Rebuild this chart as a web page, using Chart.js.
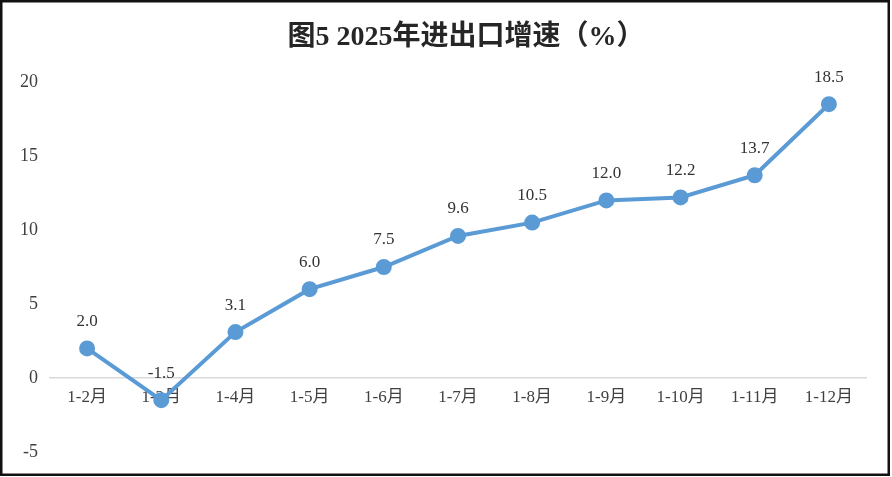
<!DOCTYPE html>
<html>
<head>
<meta charset="utf-8">
<style>
html,body{margin:0;padding:0;background:#fff;}
#wrap{width:892px;height:477px;position:relative;}
</style>
<script src="https://cdn.jsdelivr.net/npm/chart.js@4.4.1/dist/chart.umd.min.js"></script>
</head>
<body>
<div id="wrap"><canvas id="c" width="892" height="477"></canvas></div>
<script>
const categories = ["1-2月","1-3月","1-4月","1-5月","1-6月","1-7月","1-8月","1-9月","1-10月","1-11月","1-12月"];
const growth = [2.0, -1.5, 3.1, 6.0, 7.5, 9.6, 10.5, 12.0, 12.2, 13.7, 18.5];
const yTicks = [-5, 0, 5, 10, 15, 20];
const titleText = "图5 2025年进出口增速（%）";

const serif = '"Liberation Serif", "Noto Sans CJK SC", serif';

const decor = {
  id: 'decor',
  afterDraw(chart) {
    const ctx = chart.ctx;
    ctx.save();
    // title
    ctx.fillStyle = '#262626';
    ctx.font = 'bold 28px ' + serif;
    ctx.textAlign = 'center';
    ctx.textBaseline = 'middle';
    ctx.fillText(titleText, 466, 38);
    // data labels
    const meta = chart.getDatasetMeta(0);
    ctx.font = '17px ' + serif;
    ctx.fillStyle = '#333333';
    meta.data.forEach((pt, i) => {
      ctx.fillText(growth[i].toFixed(1), pt.x, pt.y - 27);
    });
    // frame
    ctx.strokeStyle = '#111';
    ctx.lineWidth = 2.5;
    ctx.strokeRect(1.25, 1.25, 887.5, 473.5);
    ctx.restore();
  }
};

new Chart(document.getElementById('c'), {
  type: 'line',
  data: {
    labels: categories,
    datasets: [{
      data: growth,
      borderColor: '#5B9BD5',
      backgroundColor: '#5B9BD5',
      borderWidth: 4,
      pointRadius: 6,
      pointHoverRadius: 6,
      pointBackgroundColor: '#5B9BD5',
      pointBorderColor: '#5B9BD5',
      tension: 0
    }]
  },
  options: {
    responsive: false,
    animation: false,
    devicePixelRatio: 1,
    layout: { padding: { top: 82, bottom: 25, right: 26, left: 0 } },
    plugins: { legend: { display: false }, title: { display: false }, tooltip: { enabled: false } },
    scales: {
      x: {
        position: { y: 0 },
        offset: true,
        grid: { display: false, drawTicks: false },
        border: { display: true, color: '#D9D9D9', width: 1.5 },
        ticks: { color: '#404040', font: { family: serif, size: 17 }, padding: 9, maxRotation: 0, autoSkip: false }
      },
      y: {
        min: -5, max: 20,
        afterFit(scale) { scale.width = 50; },
        afterBuildTicks(scale) { scale.ticks = yTicks.map(v => ({ value: v })); },
        grid: { display: false, drawTicks: false },
        border: { display: false },
        ticks: { color: '#404040', font: { family: serif, size: 18 }, padding: 12 }
      }
    }
  },
  plugins: [decor]
});
</script>
</body>
</html>
